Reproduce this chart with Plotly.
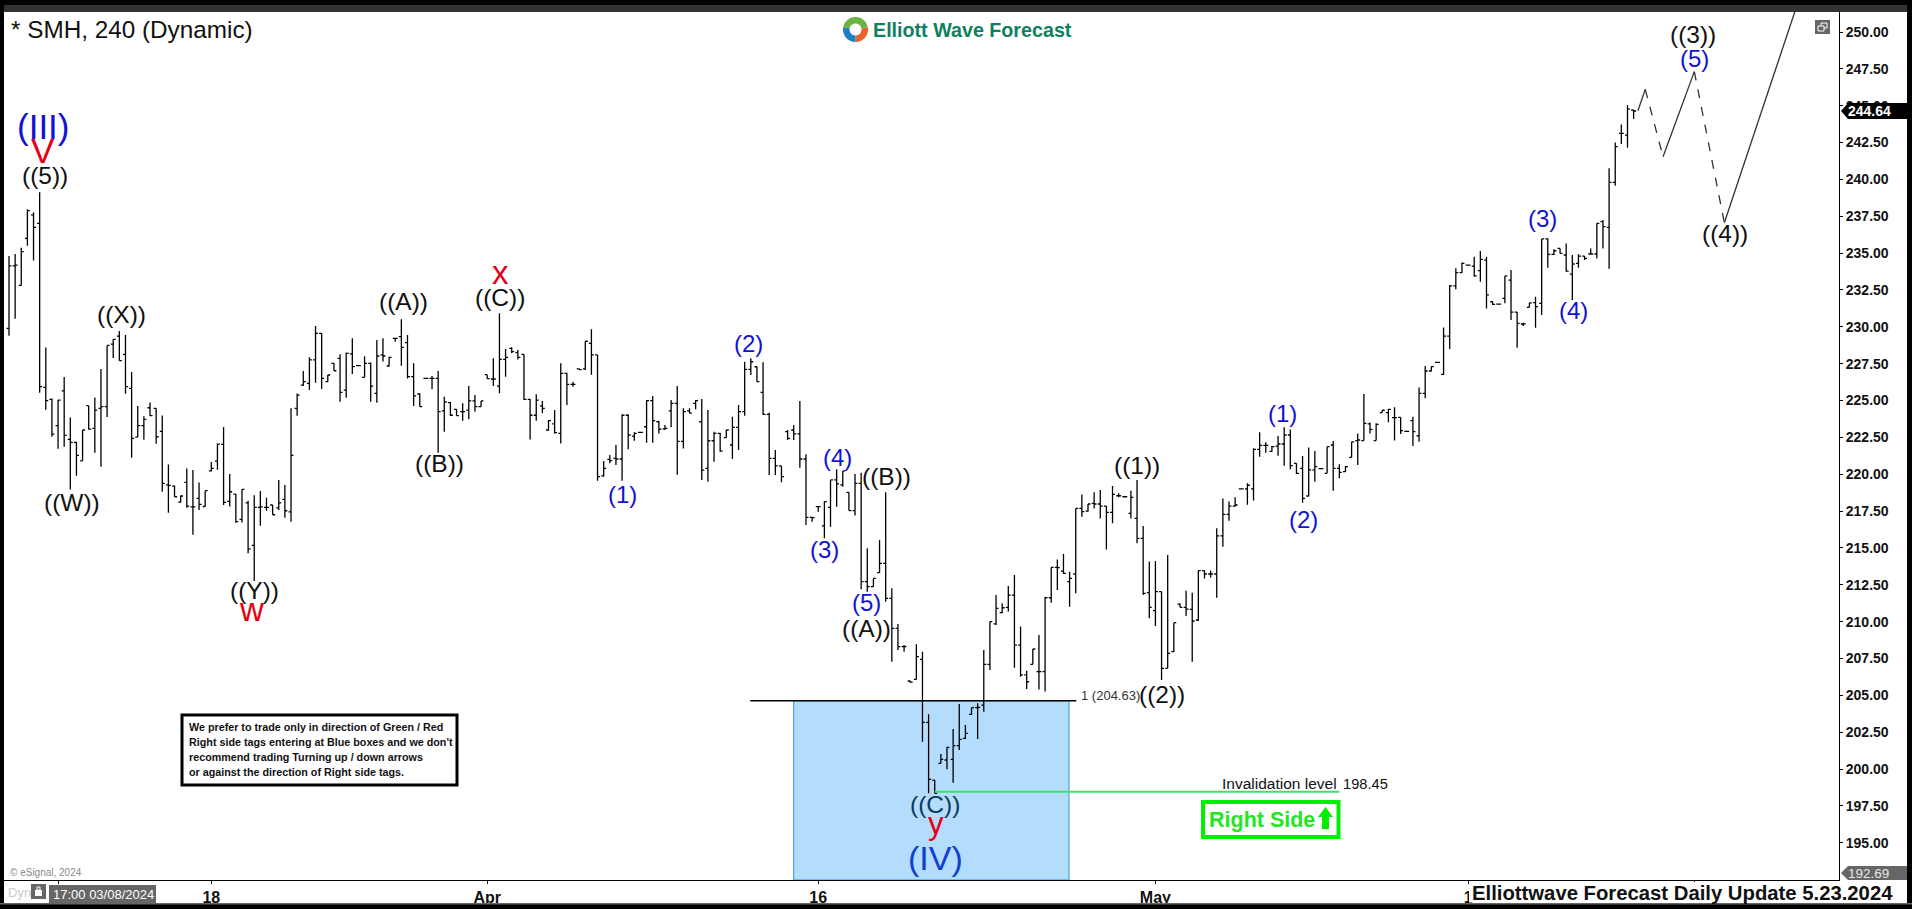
import numpy as np
import plotly.graph_objects as go

# canvas and plot area, in pixels of the 1912x909 page
W, H = 1912, 909
LEFT, RIGHT, TOP, BOTTOM = 4, 1839, 12, 880
FONT = "Liberation Sans"

# 240 min bars
opens = [229.89,234.13,232.81,236.0,237.59,237.02,225.89,225.08,223.29,225.66,
    222.36,222.16,220.91,224.65,223.11,224.47,224.58,228.83,229.37,228.13,
    225.82,222.52,223.29,224.51,224.47,222.9,219.28,219.19,218.11,219.44,
    217.79,218.36,217.81,220.23,220.89,222.02,218.15,218.65,216.93,218.06,
    215.17,217.75,217.75,217.91,217.72,218.29,217.45,224.47,226.05,226.16,
    227.75,229.56,226.28,227.52,227.86,225.71,228.16,227.36,226.57,227.52,
    225.49,228.09,227.34,229.22,229.33,228.92,226.62,225.44,226.5,226.5,
    226.5,224.29,224.85,224.4,224.24,224.35,224.97,224.58,226.75,226.46,
    225.98,227.79,228.54,228.25,228.13,225.08,224.0,224.63,223.0,223.41,
    222.77,226.84,226.1,227.14,227.14,228.88,228.09,219.88,221.0,221.08,
    221.03,224.0,222.59,222.84,223.22,224.99,223.56,223.07,224.29,224.81,
    222.23,224.29,224.81,223.56,220.4,222.27,222.77,222.48,221.98,223.18,
    224.24,227.11,227.29,225.55,224.06,221.08,220.56,222.89,223.0,222.73,
    221.03,217.07,217.8,216.49,217.75,219.61,219.27,218.77,217.53,219.38,
    212.71,212.37,213.32,213.95,211.58,209.54,208.3,205.97,206.08,207.44,
    203.17,199.25,200.38,200.61,200.66,201.58,202.08,203.71,204.16,204.34,
    207.1,209.84,210.61,210.97,211.8,208.41,206.38,207.1,206.6,206.6,
    211.62,213.68,213.43,212.71,213.23,217.68,217.5,218.02,217.98,217.84,
    217.41,218.54,218.47,217.34,217.0,215.65,211.96,210.74,212.03,206.83,
    207.96,211.19,210.97,210.83,210.11,213.46,213.23,213.23,215.81,217.28,
    217.84,219.0,219.0,219.0,221.69,221.96,221.55,221.91,222.05,222.66,
    220.74,220.4,218.52,220.29,220.38,220.06,221.98,220.4,220.17,221.14,
    222.28,222.28,223.41,222.28,224.18,224.18,223.84,223.86,222.9,223.63,
    222.61,225.49,227.0,227.59,226.77,229.37,232.77,233.67,234.19,234.12,
    233.81,234.53,231.7,231.54,231.93,233.17,231.0,230.19,231.32,231.64,
    231.59,235.96,234.92,235.32,234.87,233.58,234.3,234.8,234.94,234.94,
    237.13,236.75,239.8,243.12,243.01,244.71]
highs = [234.8,234.94,235.37,237.97,237.77,239.12,228.6,225.14,225.03,226.59,
    223.85,222.2,223.0,224.65,225.21,227.13,228.74,229.17,229.71,229.44,
    226.93,224.62,223.94,224.87,224.47,223.99,220.66,219.24,218.56,220.39,
    220.28,219.44,218.88,220.82,222.09,223.2,220.01,218.65,218.99,218.2,
    218.58,218.86,218.4,217.91,219.6,219.26,224.47,225.48,227.0,227.93,
    230.05,229.56,226.73,227.52,228.13,228.25,229.22,227.41,228.0,227.57,
    229.11,229.22,227.97,229.26,230.51,229.44,227.52,225.49,226.52,226.66,
    227.0,225.26,224.9,224.4,224.81,225.98,225.37,224.97,226.75,227.86,
    230.92,228.49,228.61,228.43,228.13,225.1,225.42,224.97,223.68,224.35,
    227.52,226.89,226.28,227.19,229.02,229.83,228.09,220.89,221.3,221.98,
    224.06,224.06,222.84,222.86,225.03,225.31,223.63,223.34,225.03,225.98,
    224.47,224.47,225.03,225.1,224.36,222.88,222.82,223.0,223.9,224.69,
    227.63,227.86,227.29,227.59,224.17,221.64,220.56,223.0,223.34,224.97,
    221.35,217.12,217.84,218.14,219.61,220.33,220.22,218.77,220.01,220.1,
    214.97,212.93,215.54,218.77,212.26,209.84,208.41,205.97,208.46,207.96,
    203.71,199.25,201.02,201.51,202.71,204.41,202.99,204.16,204.46,208.07,
    210.0,211.8,211.24,212.41,213.16,209.66,206.67,208.14,209.09,211.69,
    213.68,214.22,214.59,213.39,217.68,218.63,217.98,218.77,218.93,217.84,
    219.2,218.7,218.5,218.88,219.61,216.49,214.07,214.11,212.03,214.52,
    209.93,211.24,212.1,211.96,213.46,213.46,213.46,216.33,218.36,218.14,
    218.43,219.03,219.38,221.76,222.84,222.16,221.91,222.59,223.18,223.04,
    220.74,221.24,221.82,221.57,220.42,221.87,222.25,220.67,220.56,222.21,
    222.77,225.44,223.5,223.45,224.36,224.42,224.54,223.86,222.95,223.9,
    225.89,227.34,227.3,227.6,229.96,232.83,233.97,234.37,234.2,234.76,
    235.14,234.76,231.7,231.56,233.45,233.85,231.0,230.28,231.64,232.04,
    235.96,236.0,235.26,235.32,235.66,234.87,234.92,234.8,235.32,237.02,
    237.24,240.75,242.51,243.73,245.05,244.71]
lows = [229.4,230.55,232.81,235.5,234.49,225.53,224.37,222.54,221.73,221.86,
    218.97,219.9,220.91,223.02,221.46,220.51,223.88,227.88,227.7,225.46,
    221.12,222.52,222.34,223.97,222.07,218.81,217.39,218.47,218.06,217.72,
    215.89,217.57,217.81,220.19,220.3,217.91,217.81,216.71,216.73,214.63,
    212.75,216.5,217.52,217.25,217.57,217.05,216.77,223.97,225.98,225.71,
    226.21,225.78,226.28,227.02,224.92,225.19,226.8,227.36,226.57,224.92,
    224.85,227.64,227.3,228.99,227.36,226.5,224.63,224.58,226.48,225.76,
    221.46,222.88,223.97,223.97,223.63,223.72,224.24,224.58,226.48,225.98,
    225.49,226.62,228.2,227.79,225.03,222.36,223.63,224.13,222.93,222.77,
    222.09,224.69,225.94,227.1,227.07,226.75,219.56,219.83,220.74,220.62,
    219.56,221.69,222.27,222.82,222.14,222.14,222.77,223.0,223.18,219.97,
    221.75,224.13,224.4,219.61,219.49,220.85,221.53,222.48,221.03,221.64,
    223.97,226.73,226.28,224.02,219.95,219.95,219.45,222.32,222.32,220.44,
    216.55,216.78,217.46,215.65,216.44,217.8,219.15,217.53,217.19,212.19,
    212.03,212.37,213.32,211.35,207.28,208.07,207.96,205.86,206.08,201.85,
    198.35,198.35,200.38,199.98,199.07,201.29,202.04,203.66,202.04,203.89,
    206.72,209.77,210.56,210.68,206.87,206.26,205.43,207.1,205.4,205.25,
    211.28,212.14,213.23,211.01,211.92,217.12,217.46,217.68,217.0,214.9,
    216.67,218.43,218.45,217.0,215.31,211.8,210.22,209.7,206.04,206.83,
    207.96,210.97,210.38,207.28,210.04,212.93,213.0,211.62,215.08,216.85,
    217.8,218.98,217.93,218.21,221.19,221.46,221.53,221.26,220.58,220.33,
    220.01,218.07,218.48,219.49,220.36,220.06,218.88,219.72,220.17,221.14,
    220.62,222.28,222.77,222.28,224.18,223.52,222.28,222.73,222.87,221.91,
    222.21,225.15,226.96,227.58,226.73,228.49,232.54,233.67,234.17,233.4,
    233.06,231.25,231.48,231.52,231.59,230.46,228.58,230.05,231.32,229.94,
    230.8,234.01,234.87,234.98,233.74,231.82,234.01,234.53,234.94,234.64,
    235.32,233.94,239.57,242.4,242.15,244.1]
closes = [234.13,234.19,235.1,237.88,236.75,225.94,224.99,222.72,225.03,222.63,
    222.16,221.28,223.0,223.06,224.35,224.58,228.74,229.15,227.7,225.94,
    222.43,223.29,223.72,223.97,222.54,219.38,219.24,218.47,218.52,217.84,
    217.79,217.95,218.88,220.39,222.04,218.09,218.81,216.78,218.97,214.94,
    217.75,217.79,217.75,217.25,218.06,217.52,221.28,225.37,226.28,227.75,
    229.55,226.5,226.73,227.02,225.55,228.2,227.3,227.36,227.52,225.98,
    228.02,228.02,227.93,229.22,228.61,226.62,225.31,224.58,226.5,226.5,
    224.24,224.9,224.0,223.97,224.24,224.97,224.58,224.97,226.48,226.46,
    227.79,227.93,228.31,227.93,225.08,224.0,225.03,224.47,223.63,222.82,
    226.84,226.1,226.1,227.1,229.02,228.09,219.83,220.4,220.92,221.03,
    224.0,222.66,222.77,222.84,224.99,223.63,223.05,223.11,224.81,222.23,
    224.24,224.15,224.99,220.28,222.27,222.77,221.57,223.0,223.18,224.24,
    227.11,227.63,226.28,224.06,221.08,220.56,219.83,222.43,222.73,221.03,
    217.07,217.05,217.8,218.14,219.61,219.34,220.22,217.53,219.38,212.71,
    212.37,212.93,213.95,211.58,209.54,208.3,208.3,205.9,207.62,203.17,
    199.3,198.35,200.66,201.47,201.58,202.01,202.42,204.16,204.18,207.1,
    210.0,210.9,210.94,211.8,208.41,206.38,205.92,208.14,206.6,211.62,
    213.68,213.66,213.27,212.93,217.68,217.46,217.98,217.98,217.84,217.41,
    218.63,218.54,218.47,218.43,215.65,211.92,210.97,212.03,206.83,207.85,
    209.93,210.97,210.85,210.04,213.46,213.23,213.23,215.81,217.28,217.84,
    217.91,219.0,219.25,221.69,221.96,221.96,221.87,222.05,222.66,220.58,
    220.06,218.36,220.29,220.51,220.38,221.87,220.4,220.12,220.51,222.19,
    222.32,223.45,223.04,223.38,224.34,224.4,223.84,222.95,222.9,222.89,
    225.49,227.0,227.3,227.59,229.37,232.77,233.67,234.3,234.19,233.45,
    234.58,232.16,231.52,231.54,233.45,231.0,230.23,230.2,231.62,231.37,
    235.96,234.92,235.16,234.98,233.78,234.26,234.8,234.64,234.94,237.02,
    236.79,239.8,242.22,243.12,244.77,244.64]

# projected path after the last bar: (bar, price) legs
path_bars = [265.7, 266.9, 269.8, 274.9, 279.8, 291.3]
path_prices = [244.66, 246.11, 241.54, 247.31, 237.06, 251.38]
path_dashes = ["solid", "dash", "solid", "dash", "solid"]

# axes
price_ticks = [195 + 2.5 * i for i in range(23)]
price_labels = ["<b>%.2f</b>" % p for p in price_ticks]
date_ticks = [8, 33, 78, 132, 187, 238, 275]
date_labels = ["", "<b>18</b>", "<b>Apr</b>", "<b>16</b>", "<b>May</b>", "<b>1</b>", ""]

# levels
box_level = 204.63
invalidation = 198.45
last_price = 244.64
low_price = 192.69

BLACK, BLUE, RED, NAVY = "#111111", "#1212d6", "#e60012", "#0b3a5c"
wave_labels = [
    ("(III)", 5.5, 243.35, BLUE, 35), ("V", 5.5, 241.72, RED, 35), ("((5))", 5.9, 240.09, BLACK, 24.5),
    ("((X))", 18.4, 230.66, BLACK, 24.5), ("((W))", 10.3, 217.91, BLACK, 24.5), ("((Y))", 40, 211.94, BLACK, 24.5),
    ("w", 39.6, 210.6, RED, 33), ("((A))", 64.3, 231.55, BLACK, 24.5), ("((B))", 70.3, 220.56, BLACK, 24.5),
    ("x", 80.1, 233.45, RED, 33), ("((C))", 80.1, 231.82, BLACK, 24.5), ("(1)", 100, 218.45, BLUE, 24),
    ("(2)", 120.7, 228.70, BLUE, 24), ("(3)", 133, 214.72, BLUE, 24), ("(4)", 135.1, 220.96, BLUE, 24),
    ("((B))", 143.2, 219.67, BLACK, 24.5), ("(5)", 139.8, 211.13, BLUE, 24), ("((A))", 139.8, 209.36, BLACK, 24.5),
    ("((C))", 151.1, 197.42, NAVY, 24.5), ("y", 151.2, 196.06, RED, 31), ("(IV)", 151.1, 193.76, "#1040d0", 34),
    ("((1))", 184, 220.42, BLACK, 24.5), ("((2))", 188.1, 204.88, BLACK, 24.5), ("(1)", 207.8, 223.95, BLUE, 24),
    ("(2)", 211.1, 216.76, BLUE, 24), ("(3)", 250.1, 237.18, BLUE, 24), ("(4)", 255.2, 230.94, BLUE, 24),
    ("((3))", 274.7, 249.66, BLACK, 24.5), ("(5)", 274.9, 248.03, BLUE, 24), ("((4))", 279.9, 236.16, BLACK, 24.5),
]

note_lines = ["We prefer to trade only in direction of Green / Red",
              "Right side tags entering at Blue boxes and we don't",
              "recommend trading Turning up / down arrows",
              "or against the direction of Right side tags."]


def px(x):
    return (x - LEFT) / (RIGHT - LEFT)


def py(y):
    return 1 - (y - TOP) / (BOTTOM - TOP)


def rect(x0, y0, x1, y1, fill, line=None, width=0):
    return dict(type="rect", xref="paper", yref="paper", x0=px(x0), x1=px(x1), y0=py(y0), y1=py(y1),
                fillcolor=fill, line=dict(color=line or fill, width=width), layer="above")


def poly(points, fill):
    d = "M" + "L".join("%.5f,%.5f" % (px(a), py(b)) for a, b in points) + "Z"
    return dict(type="path", xref="paper", yref="paper", path=d, fillcolor=fill, line=dict(width=0), layer="above")


def ring_part(cx, cy, r0, r1, a0, a1, fill):
    ang = np.radians(np.linspace(a0, a1, 24))
    outer = [(cx + r1 * np.cos(a), cy + r1 * np.sin(a)) for a in ang]
    inner = [(cx + r0 * np.cos(a), cy + r0 * np.sin(a)) for a in ang[::-1]]
    return poly(outer + inner, fill)


def text(x, y, s, size, color="#111111", anchor="left", bold=False):
    return dict(xref="paper", yref="paper", x=px(x), y=py(y), text="<b>%s</b>" % s if bold else s,
                showarrow=False, xanchor=anchor, yanchor="middle", align="left",
                font=dict(family=FONT, size=size, color=color))


bars = list(range(len(closes)))
fig = go.Figure()
fig.add_trace(go.Ohlc(x=bars, open=opens, high=highs, low=lows, close=closes, tickwidth=0.4,
                      increasing=dict(line=dict(color="black", width=1.3)),
                      decreasing=dict(line=dict(color="black", width=1.3)),
                      hoverinfo="skip", showlegend=False))
for i, dash in enumerate(path_dashes):
    fig.add_trace(go.Scatter(x=path_bars[i:i + 2], y=path_prices[i:i + 2], mode="lines", hoverinfo="skip",
                             line=dict(color="#333333", width=1.3, dash=dash), showlegend=False))

shapes = [
    # blue box and levels
    dict(type="rect", x0=128, x1=172.9, y0=192.47, y1=box_level, fillcolor="#b3dcfd",
         line=dict(color="#2a9ad8", width=1), layer="below"),
    dict(type="line", x0=120.9, x1=174.1, y0=box_level, y1=box_level, line=dict(color="black", width=1.5)),
    dict(type="line", x0=151, x1=217, y0=invalidation, y1=invalidation, line=dict(color="#3fe06a", width=2)),
    # frame
    rect(0, 0, W, 5, "black"), rect(0, 5, W, 12, "#333333"), rect(0, 0, 4, H, "black"),
    rect(1907, 0, W, H, "black"), rect(0, 903, W, H, "black"), rect(0, 903, W, 904.5, "#666666"),
    # bottom bar bits
    rect(1469, 882, 1906, 902.5, "white"), rect(49, 885, 156, 903, "#666666"), rect(31, 884, 46, 899, "#666666"),
    rect(35, 890, 42, 896, "white"), rect(37, 887, 40, 890, "#666666", "white", 1),
    # price tags
    poly([(1841, 111), (1848, 103), (1907, 103), (1907, 119), (1848, 119)], "black"),
    poly([(1841, 873), (1848, 866), (1907, 866), (1907, 880), (1848, 880)], "#666666"),
    # window button
    rect(1815, 20, 1830, 34, "#666666"), rect(1821, 23, 1827, 28, "#666666", "white", 1),
    rect(1818, 26, 1824, 31, "#666666", "white", 1),
    # note and right side boxes
    rect(182, 715, 457, 785, "white", "black", 3), rect(1203, 802, 1338.5, 837, "white", "#00ee00", 4),
    poly([(1325.5, 807), (1333, 817), (1329, 817), (1329, 829), (1322, 829), (1322, 817), (1318, 817)], "#00ee00"),
    # logo
    ring_part(855.5, 29.5, 6, 12.5, 190, 350, "#6db33f"),
    ring_part(855.5, 29.5, 6, 12.5, 350, 450, "#e8622a"),
    ring_part(855.5, 29.5, 6, 12.5, 90, 190, "#1f7fc4"),
]

# yshift lifts the text box so the glyphs sit where the reference has them
annotations = [
    dict(x=b, y=p, text=s, showarrow=False, xanchor="center", yanchor="middle", yshift=size * 0.1,
         font=dict(family=FONT, size=size, color=color))
    for s, b, p, color, size in wave_labels
]
annotations += [text(187, 727 + 15 * i, line, 10.75, "#111111", bold=True) for i, line in enumerate(note_lines)]
annotations += [
    text(9, 30, "* SMH, 240 (Dynamic)", 24.3),
    text(871, 30, "Elliott Wave Forecast", 19.7, "#0f8060", bold=True),
    text(1079, 695, "1 (204.63)", 13, "#333333"),
    text(1220, 783, "Invalidation level", 15.5),
    text(1341, 784, "198.45", 14.7),
    text(1207, 820, "Right Side", 21.5, "#22e622", bold=True),
    text(8, 872, "© eSignal, 2024", 10, "#888888"),
    text(6, 892, "Dyn", 13, "#cccccc"),
    text(51, 894, "17:00 03/08/2024", 13, "white"),
    text(1470, 893, "Elliottwave Forecast Daily Update 5.23.2024", 20.3, "#111111", bold=True),
    text(1846, 111, "244.64", 14, "white", bold=True),
    text(1846, 873, "192.69", 13.5, "#e6e6e6"),
]

fig.update_layout(
    width=W, height=H, autosize=False, showlegend=False,
    margin=dict(l=LEFT, r=W - RIGHT, t=TOP, b=H - BOTTOM, pad=0),
    paper_bgcolor="white", plot_bgcolor="white",
    shapes=shapes, annotations=annotations,
    font=dict(family=FONT, color="#111111"),
    xaxis=dict(range=[-0.816, 298.5], rangeslider=dict(visible=False), showgrid=False, zeroline=False,
               tickmode="array", tickvals=date_ticks, ticktext=date_labels, ticks="outside", ticklen=3,
               tickcolor="black", tickfont=dict(family=FONT, size=16, color="#111111"),
               showline=True, linecolor="black", linewidth=1),
    yaxis=dict(range=[192.47, 251.357], side="right", showgrid=False, zeroline=False,
               tickmode="array", tickvals=price_ticks, ticktext=price_labels, ticks="outside", ticklen=3,
               tickcolor="black", tickfont=dict(family=FONT, size=14, color="#111111"),
               showline=True, linecolor="black", linewidth=1),
)

fig.write_html("out.html", config=dict(displayModeBar=False),
               post_script="document.body.style.margin='0';document.body.style.overflow='hidden';")
